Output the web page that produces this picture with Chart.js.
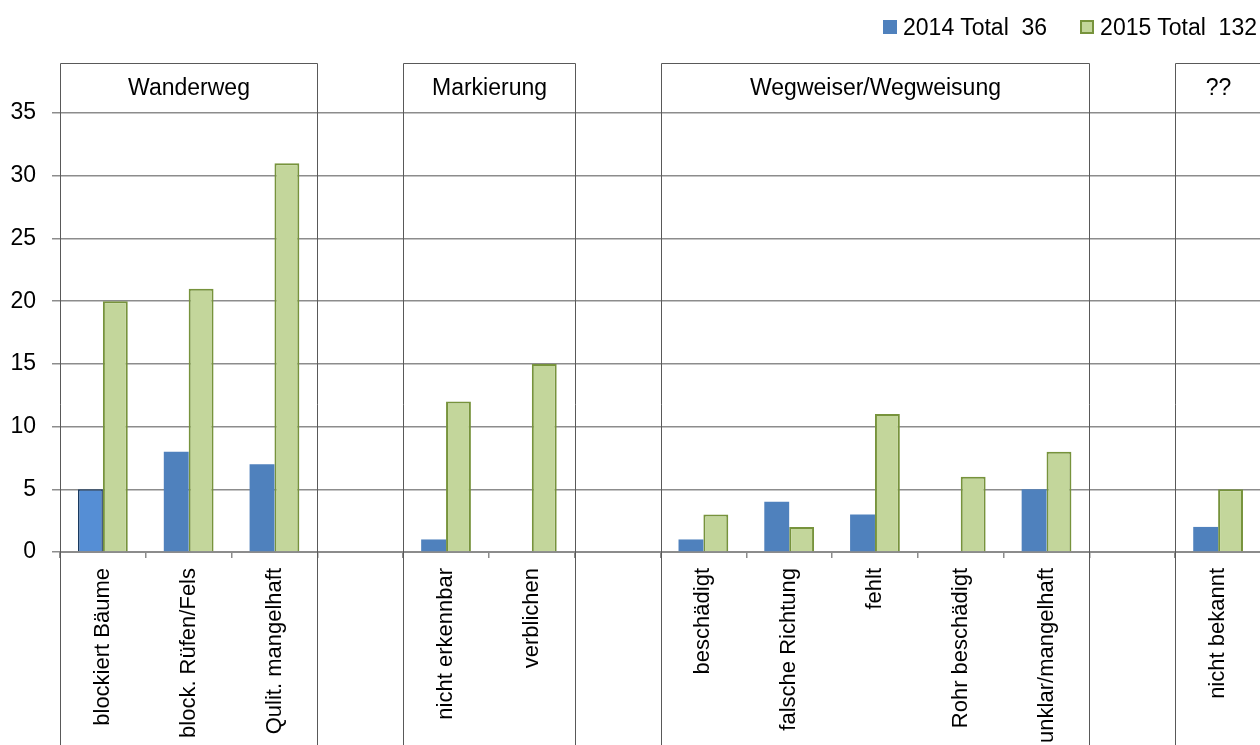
<!DOCTYPE html>
<html>
<head>
<meta charset="utf-8">
<title>Schadensmeldungen 2014 / 2015</title>
<script src="https://cdn.jsdelivr.net/npm/chart.js@4.4.1/dist/chart.umd.min.js"></script>
<style>
  html, body { margin: 0; padding: 0; background: #fff; overflow: hidden; }
  .chart-wrap { position: relative; width: 1261px; height: 745px; }
  .legend {
    position: absolute; top: 13px; right: 4px;
    display: flex; align-items: center;
    font: 23px "Liberation Sans", Arial, sans-serif; color: #000;
    line-height: 28px; white-space: pre;
  }
  .legend .item { display: flex; align-items: center; margin-left: 33px; }
  .legend .item:first-child { margin-left: 0; }
  .legend .box { width: 14px; height: 14px; margin-right: 6px; box-sizing: border-box; }
</style>
</head>
<body>
<div class="chart-wrap">
  <canvas id="chart"></canvas>
  <div class="legend" id="legend"></div>
</div>
<script>
// categories (empty strings are the gaps between the groups)
const categories = [
  "blockiert Bäume", "block. Rüfen/Fels", "Qulit. mangelhaft", "",
  "nicht erkennbar", "verblichen", "",
  "beschädigt", "falsche Richtung", "fehlt", "Rohr beschädigt", "unklar/mangelhaft", "",
  "nicht bekannt"
];
const values2014 = [5, 8, 7, null, 1, 0, null, 1, 4, 3, 0, 5, null, 2];
const values2015 = [20, 21, 31, null, 12, 15, null, 3, 2, 11, 6, 8, null, 5];
const seriesLabels = ["2014 Total  36", "2015 Total  132"];

// header groups: name + first/last category index
const groupNames = ["Wanderweg", "Markierung", "Wegweiser/Wegweisung", "??"];
const groupFirst = [0, 4, 7, 13];
const groupLast = [2, 5, 11, 13];

const yTicks = [0, 5, 10, 15, 20, 25, 30, 35];

const blue = "#4F81BD";
const green = "#C3D69B";
const greenEdge = "#77933C";

Chart.defaults.font.family = '"Liberation Sans", Arial, sans-serif';
Chart.defaults.color = "#000";

// group boxes on top of the plot and lines through the label area
const groupBoxes = {
  id: "groupBoxes",
  afterDraw(chart) {
    const { ctx, chartArea, scales } = chart;
    const x = scales.x, y = scales.y;
    const half = (x.getPixelForValue(1) - x.getPixelForValue(0)) / 2;
    const top = Math.round(chartArea.top) + 0.5;
    const bottom = chart.height;
    const labelY = (chartArea.top + y.getPixelForValue(35)) / 2 + 7;

    ctx.save();
    ctx.strokeStyle = "#595959";
    ctx.lineWidth = 1;
    groupNames.forEach((name, i) => {
      const x0 = Math.round(x.getPixelForValue(groupFirst[i]) - half) + 0.5;
      const x1 = Math.round(x.getPixelForValue(groupLast[i]) + half) + 0.5;
      ctx.beginPath();
      ctx.moveTo(x0, bottom);
      ctx.lineTo(x0, top);
      ctx.lineTo(x1, top);
      ctx.lineTo(x1, bottom);
      ctx.stroke();

      ctx.fillStyle = "#000";
      ctx.font = '23px "Liberation Sans", Arial, sans-serif';
      ctx.textAlign = "center";
      ctx.textBaseline = "alphabetic";
      ctx.fillText(name, (x0 + x1) / 2, labelY);
    });
    ctx.restore();
  }
};

const chart = new Chart(document.getElementById("chart"), {
  type: "bar",
  data: {
    labels: categories,
    datasets: [
      {
        label: seriesLabels[0],
        data: values2014,
        backgroundColor: (c) => (c.dataIndex === 0 ? "#558ED5" : blue),
        borderColor: "#17375E",
        borderWidth: (c) => (c.dataIndex === 0 ? 1.5 : 0),
        borderSkipped: "bottom"
      },
      {
        label: seriesLabels[1],
        data: values2015,
        backgroundColor: green,
        borderColor: greenEdge,
        borderWidth: 2,
        borderSkipped: "bottom"
      }
    ]
  },
  options: {
    responsive: true,
    maintainAspectRatio: false,
    animation: false,
    categoryPercentage: 0.58,
    barPercentage: 1.0,
    layout: { padding: { top: 63, right: 0, left: 0, bottom: 0 } },
    plugins: {
      legend: { display: false },
      tooltip: { enabled: false }
    },
    scales: {
      x: {
        afterFit(scale) { scale.height = 193; },
        grid: {
          drawOnChartArea: false,
          drawTicks: true,
          tickLength: 6,
          color: "#8c8c8c",
          lineWidth: 1.5
        },
        border: { display: true, color: "#8c8c8c", width: 2 },
        ticks: {
          autoSkip: false,
          maxRotation: 90,
          minRotation: 90,
          padding: 10,
          font: { size: 22 },
          color: "#000"
        }
      },
      y: {
        min: 0,
        max: 39,
        afterFit(scale) { scale.width = 60; },
        afterBuildTicks(scale) {
          scale.ticks = yTicks.map((v) => ({ value: v }));
        },
        grid: {
          color: "#8c8c8c",
          lineWidth: 1.5,
          tickLength: 8
        },
        border: { display: false },
        ticks: {
          padding: 16,
          font: { size: 23 },
          color: "#000"
        }
      }
    }
  },
  plugins: [groupBoxes]
});

// html legend built from the datasets
const legendEl = document.getElementById("legend");
chart.data.datasets.forEach((ds, i) => {
  const item = document.createElement("span");
  item.className = "item";
  const box = document.createElement("span");
  box.className = "box";
  box.style.background = i === 0 ? blue : green;
  if (i === 1) box.style.border = "2px solid " + greenEdge;
  item.appendChild(box);
  item.appendChild(document.createTextNode(ds.label));
  legendEl.appendChild(item);
});
</script>
</body>
</html>
